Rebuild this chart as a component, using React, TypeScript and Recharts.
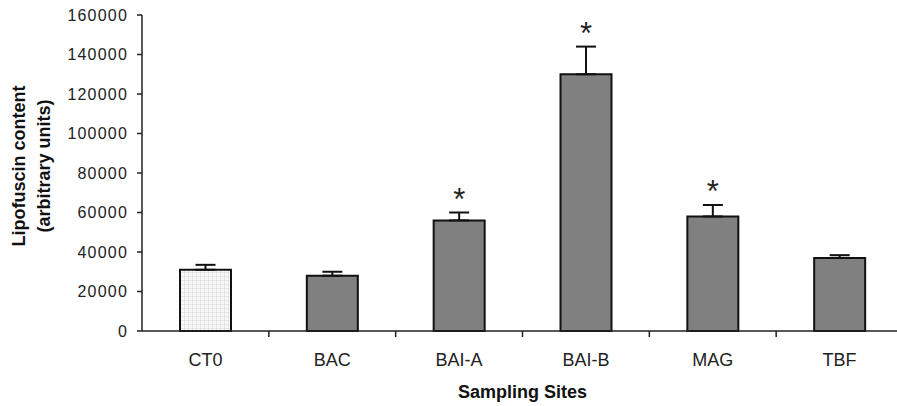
import { BarChart, Bar, XAxis, YAxis, ErrorBar, LabelList, Cell } from 'recharts';

const sites = ['CT0', 'BAC', 'BAI-A', 'BAI-B', 'MAG', 'TBF'];
const lipofuscin = [31000, 28000, 56000, 130000, 58000, 37000];
const sem = [2500, 2000, 4000, 14000, 5800, 1400];
const significant = [false, false, true, true, true, false];
const yTicks = [0, 20000, 40000, 60000, 80000, 100000, 120000, 140000, 160000];

const data = sites.map((site, i) => ({
  site,
  value: lipofuscin[i],
  err: [0, sem[i]],
}));

const FONT = '"Liberation Sans", Arial, sans-serif';
const AXIS = '#222';

// category label plus a short tick at the right edge of each band
function SiteTick(props: any) {
  const { x, y, payload } = props;
  const half = payload.offset ?? 63.4;
  const axisY = y - 6;
  return (
    <g>
      <line x1={x + half} y1={axisY} x2={x + half} y2={axisY + 6} stroke={AXIS} strokeWidth={1.5} />
      <text x={x} y={axisY + 35} textAnchor="middle" fontSize={18} fontFamily={FONT} fill="#222">
        {payload.value}
      </text>
    </g>
  );
}

function Star(props: any) {
  const { x, y, width, height, index } = props;
  if (!significant[index]) return null;
  const errPx = (sem[index] / lipofuscin[index]) * Number(height);
  const top = Number(y) - errPx;
  return (
    <text x={Number(x) + Number(width) / 2} y={top - 3} textAnchor="middle" fontSize={31} fontFamily={FONT} fill="#222">
      *
    </text>
  );
}

export default function App() {
  return (
    <div style={{ position: 'absolute', left: 0, top: 0, width: 897, height: 406, overflow: 'hidden', background: '#fff' }}>
      <BarChart width={905} height={406} data={data} margin={{ top: 15, right: 2, bottom: 0, left: 0 }}>
        <defs>
          <pattern id="ct0Dots" width={4} height={4} patternUnits="userSpaceOnUse">
            <rect width={4} height={4} fill="#f8f8f8" />
            <path d="M0 0H4M0 0V4" stroke="#d6d6d6" strokeWidth={1} />
          </pattern>
        </defs>
        <XAxis
          dataKey="site"
          height={75}
          interval={0}
          tickLine={false}
          tickSize={6}
          tickMargin={0}
          tick={<SiteTick />}
          axisLine={{ stroke: AXIS, strokeWidth: 1.5 }}
          label={(p: any) => {
            const vb = p.viewBox;
            return (
              <text x={vb.x + vb.width / 2} y={398} textAnchor="middle" fontSize={18} fontWeight="bold" fontFamily={FONT} fill="#111">
                Sampling Sites
              </text>
            );
          }}
        />
        <YAxis
          width={142}
          domain={[0, 160000]}
          ticks={yTicks}
          interval={0}
          tickSize={5}
          tickMargin={9}
          axisLine={{ stroke: AXIS, strokeWidth: 1.5 }}
          tickLine={{ stroke: AXIS, strokeWidth: 1.5 }}
          tick={{ fontSize: 16, fontFamily: FONT, fill: '#222', letterSpacing: 1.2 }}
          label={() => (
            <text transform="translate(0,166) rotate(-90)" textAnchor="middle" fontSize={18} fontWeight="bold" fontFamily={FONT} fill="#111">
              <tspan x={0} y={25}>Lipofuscin content</tspan>
              <tspan x={0} y={50}>(arbitrary units)</tspan>
            </text>
          )}
        />
        <Bar dataKey="value" barSize={51} fill="#808080" stroke="#111" strokeWidth={2} isAnimationActive={false}>
          {data.map((_, i) => (
            <Cell key={i} fill={i === 0 ? 'url(#ct0Dots)' : '#808080'} />
          ))}
          <ErrorBar dataKey="err" direction="y" width={10} stroke="#111" strokeWidth={2} />
          <LabelList dataKey="value" content={<Star />} />
        </Bar>
      </BarChart>
    </div>
  );
}
